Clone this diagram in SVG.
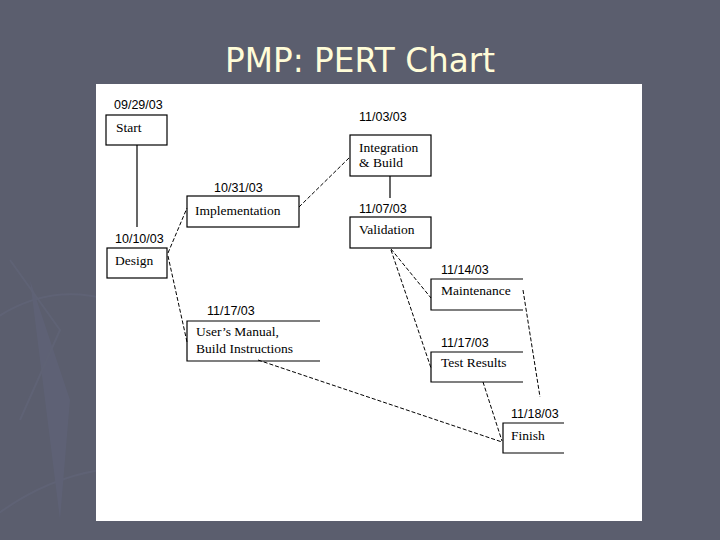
<svg xmlns="http://www.w3.org/2000/svg" width="720" height="540" viewBox="0 0 720 540">
<style>
.box{fill:none;stroke:#000;stroke-width:1.2}
.date{font-family:"Liberation Sans",Arial,sans-serif;font-size:12.5px;fill:#000}
.lbl{font-family:"Liberation Serif","Times New Roman",serif;font-size:13.5px;fill:#000}
.solid{stroke:#000;stroke-width:1.2;fill:none}
.dash{stroke:#000;stroke-width:1;fill:none;stroke-dasharray:4 2}
.deco{fill:none;stroke:#62667a;stroke-width:2}
</style>
<rect x="0" y="0" width="720" height="540" fill="#5b5e6e"/>
<g id="decoration" opacity="0.6">
<path class="deco" d="M-20,330 Q40,280 110,300"/>
<path class="deco" d="M-10,520 Q40,480 100,470"/>
<polygon points="30,280 60,520 70,400" fill="#60647a"/>
<path class="deco" d="M10,260 L60,330 L20,420"/>
</g>
<text x="360" y="72" text-anchor="middle" font-family="'DejaVu Sans',Verdana,sans-serif" font-size="33" fill="#fffcd8" textLength="270" lengthAdjust="spacingAndGlyphs">PMP: PERT Chart</text>
<rect x="96" y="84" width="546" height="437" fill="#fff"/>
<g id="connectors">
<line class="solid" x1="137" y1="145" x2="137" y2="227"/>
<line class="solid" x1="390" y1="176" x2="390" y2="198"/>
<line class="dash" x1="168" y1="253" x2="187" y2="208"/>
<line class="dash" x1="168" y1="256" x2="187" y2="342"/>
<line class="dash" x1="299" y1="207" x2="350" y2="157"/>
<line class="dash" x1="391" y1="249" x2="431" y2="298"/>
<line class="dash" x1="391" y1="250" x2="431" y2="368"/>
<line class="dash" x1="523" y1="290" x2="540" y2="397"/>
<line class="dash" x1="483" y1="382" x2="502" y2="441"/>
<line class="dash" x1="258" y1="360" x2="502" y2="442"/>
</g>
<g id="start">
<text class="date" x="114" y="109">09/29/03</text>
<rect class="box" x="106" y="115" width="61" height="30"/>
<text class="lbl" x="116" y="132">Start</text>
</g>
<g id="design">
<text class="date" x="115" y="243">10/10/03</text>
<rect class="box" x="107" y="248" width="60" height="30"/>
<text class="lbl" x="115" y="265">Design</text>
</g>
<g id="implementation">
<text class="date" x="214" y="192">10/31/03</text>
<rect class="box" x="187" y="196" width="112" height="31"/>
<text class="lbl" x="195" y="215">Implementation</text>
</g>
<g id="integration">
<text class="date" x="359" y="121">11/03/03</text>
<rect class="box" x="350" y="135" width="81" height="41"/>
<text class="lbl" x="359" y="152">Integration</text>
<text class="lbl" x="359" y="167">&amp; Build</text>
</g>
<g id="validation">
<text class="date" x="359" y="213">11/07/03</text>
<rect class="box" x="350" y="217" width="81" height="31"/>
<text class="lbl" x="359" y="234">Validation</text>
</g>
<g id="maintenance">
<text class="date" x="441" y="274">11/14/03</text>
<path class="box" d="M523,279 H431 V310 H523"/>
<text class="lbl" x="441" y="295">Maintenance</text>
</g>
<g id="testresults">
<text class="date" x="441" y="347">11/17/03</text>
<path class="box" d="M523,352 H431 V382 H523"/>
<text class="lbl" x="441" y="367">Test Results</text>
</g>
<g id="usersmanual">
<text class="date" x="207" y="315">11/17/03</text>
<path class="box" d="M320,321 H187 V361 H320"/>
<text class="lbl" x="196" y="336">User’s Manual,</text>
<text class="lbl" x="196" y="353">Build Instructions</text>
</g>
<g id="finish">
<text class="date" x="511" y="418">11/18/03</text>
<path class="box" d="M564,423 H503 V453 H564"/>
<text class="lbl" x="511" y="440">Finish</text>
</g>
</svg>
